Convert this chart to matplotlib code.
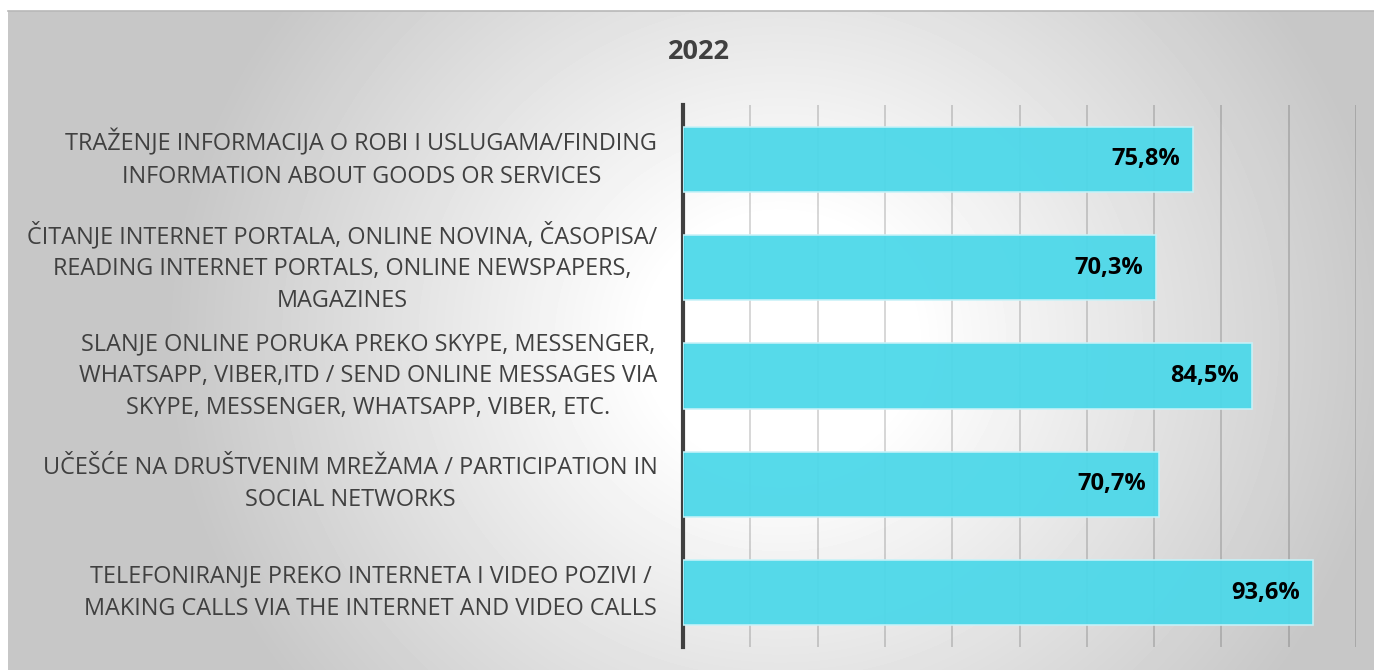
import numpy as np
import matplotlib
import matplotlib.pyplot as plt
from matplotlib.ticker import MultipleLocator

plt.rcParams['font.family'] = ['Open Sans', 'DejaVu Sans']

title = "2022"
categories = [
  "TRAŽENJE INFORMACIJA O ROBI I USLUGAMA/FINDING\nINFORMATION ABOUT GOODS OR SERVICES",
  "ČITANJE INTERNET PORTALA, ONLINE NOVINA, ČASOPISA/\nREADING INTERNET PORTALS, ONLINE NEWSPAPERS,\nMAGAZINES",
  "SLANJE ONLINE PORUKA PREKO SKYPE, MESSENGER,\nWHATSAPP, VIBER,ITD / SEND ONLINE MESSAGES VIA\nSKYPE, MESSENGER, WHATSAPP, VIBER, ETC.",
  "UČEŠĆE NA DRUŠTVENIM MREŽAMA / PARTICIPATION IN\nSOCIAL NETWORKS",
  "TELEFONIRANJE PREKO INTERNETA I VIDEO POZIVI /\nMAKING CALLS VIA THE INTERNET AND VIDEO CALLS",
]
values = [75.8, 70.3, 84.5, 70.7, 93.6]
value_labels = ["75,8%", "70,3%", "84,5%", "70,7%", "93,6%"]

W, H = 1374, 670
fig = plt.figure(figsize=(W / 100, H / 100), dpi=100)
fig.patch.set_facecolor("white")

# radial gray background
bg = fig.add_axes([8 / W, 0, 1 - 8 / W, 1 - 11 / H])
bg.set_axis_off()
xx, yy = np.meshgrid(np.arange(8, W), np.arange(11, H))
r = np.sqrt(((xx - 780) / 600.0) ** 2 + ((yy - 340) / 560.0) ** 2)
shade = 1 - 0.22 * np.clip((r - 0.22) / 0.8, 0, 1)
bg.imshow(shade, cmap="gray", vmin=0, vmax=1, aspect="auto", interpolation="bilinear")
fig.add_artist(plt.Line2D([8 / W, 1], [1 - 11 / H, 1 - 11 / H], color="#b8b8b8", lw=1.2,
                          transform=fig.transFigure))

ax = fig.add_axes([683 / W, 1 - 647 / H, (1356 - 683) / W, (647 - 105) / H])
ax.set_facecolor("none")

y = np.arange(len(categories))
ax.barh(y, values, height=0.6, color="#4DD8E9", alpha=0.95, edgecolor="#c8f2f8", linewidth=1.2, zorder=3)

for yi, v, lab in zip(y, values, value_labels):
  ax.text(v - 1.9, yi, lab, ha="right", va="center", fontsize=17, fontweight="bold", color="black", zorder=4)

ax.set_xlim(0, 100)
ax.set_ylim(4.5, -0.5)
ax.xaxis.set_major_locator(MultipleLocator(10))
ax.grid(axis="x", color="black", alpha=0.2, linewidth=1.1, zorder=0)
ax.set_axisbelow(True)
ax.tick_params(left=False, bottom=False, labelbottom=False)

ax.set_yticks(y)
ax.set_yticklabels(categories, fontsize=16.9, color="#404040", linespacing=1.44)
for t in ax.get_yticklabels():
  t.set_multialignment("center")
  t.set_va("center")
ax.tick_params(axis="y", pad=15)

for s in ["top", "right", "bottom"]:
  ax.spines[s].set_visible(False)
ax.spines["left"].set_color("#404040")
ax.spines["left"].set_linewidth(3)

fig.text(699 / W, 1 - 52 / H, title, ha="center", va="center", fontsize=19.5, fontweight="bold", color="#404040")

plt.savefig("out.png", dpi=100)
